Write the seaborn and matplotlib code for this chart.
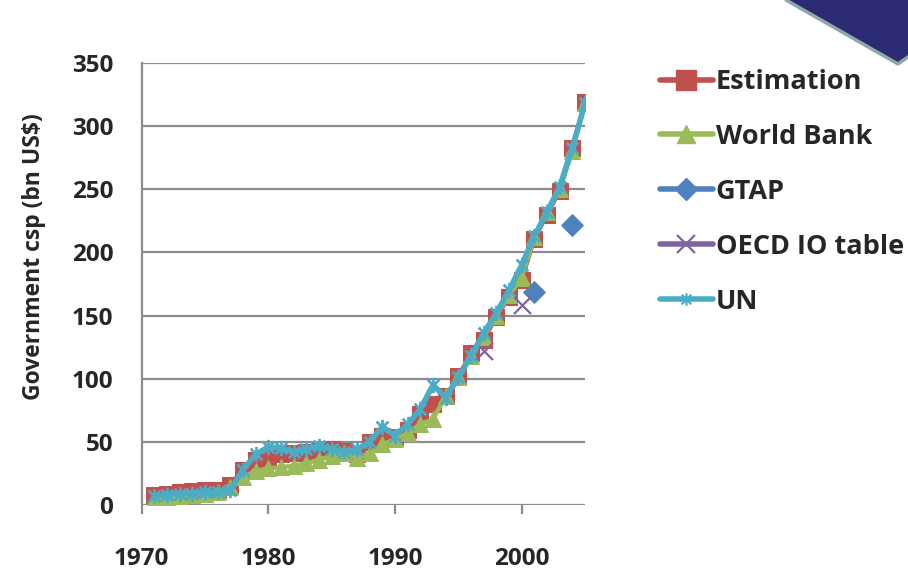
import numpy as np
import pandas as pd
import matplotlib.pyplot as plt
import seaborn as sns
from matplotlib.lines import Line2D
from matplotlib.path import Path
from matplotlib.patches import Polygon

# Data (bn US$)
years = list(range(1971, 2006))
estimation = [8, 9, 10, 11, 12, 12, 16, 28, 36, 38, 40, 41, 42, 43, 44, 43, 40, 50, 55, 54,
              59, 72, 80, 86, 102, 120, 131, 149, 165, 178, 211, 230, 249, 283, 319]
world_bank = [5, 6, 7, 8, 9, 10, 14, 22, 27, 29, 30, 31, 33, 36, 39, 41, 37, 41, 48, 52,
              57, 64, 68, 86, 101, 118, 133, 150, 166, 180, 212, 232, 250, 280, 318]
un = [7, 8, 9, 9, 10, 10, 12, 28, 40, 46, 45, 42, 44, 47, 44, 42, 44, 50, 62, 55,
      64, 76, 95, 85, 101, 118, 136, 152, 170, 190, 213, 232, 252, 283, 318]
gtap_years = [2001, 2004]
gtap = [169, 222]
oecd_years = [1997, 2000]
oecd = [122, 158]

labels = ["Estimation", "World Bank", "GTAP", "OECD IO table", "UN"]
colors = ["#C0504D", "#9BBB59", "#4F81BD", "#8064A2", "#4BACC6"]

df = pd.DataFrame({"Year": years, "Estimation": estimation,
                   "World Bank": world_bank, "UN": un})

# Excel-style asterisk marker: an X plus a vertical bar
asterisk = Path([(-1, -1), (1, 1), (-1, 1), (1, -1), (0, -1.3), (0, 1.3)],
                [Path.MOVETO, Path.LINETO, Path.MOVETO, Path.LINETO, Path.MOVETO, Path.LINETO])

sns.set_style("white")
plt.rcParams["font.family"] = ["Open Sans", "DejaVu Sans"]
plt.rcParams["font.weight"] = "bold"

fig = plt.figure(figsize=(9.08, 5.71), dpi=100)
ax = fig.add_axes([141.7 / 908, 1 - 505 / 571, (585 - 141.7) / 908, (505 - 63) / 571])

sns.lineplot(data=df, x="Year", y="Estimation", ax=ax, color=colors[0], lw=3.2,
             marker="s", ms=11, mec=colors[0], errorbar=None, zorder=3)
sns.lineplot(data=df, x="Year", y="World Bank", ax=ax, color=colors[1], lw=3.2,
             marker="^", ms=11, mec=colors[1], errorbar=None, zorder=4)
sns.scatterplot(x=gtap_years, y=gtap, ax=ax, color=colors[2], marker="D", s=120,
                edgecolor=colors[2], zorder=5)
sns.scatterplot(x=oecd_years, y=oecd, ax=ax, color=colors[3], marker="x", s=150,
                linewidth=1.6, zorder=5)
sns.lineplot(data=df, x="Year", y="UN", ax=ax, color=colors[4], lw=4,
             marker=asterisk, ms=11, mew=2, mec=colors[4], mfc="none",
             errorbar=None, zorder=6)

ax.set_xlim(1970, 2005)
ax.set_ylim(0, 350)
ax.set_xticks([1970, 1980, 1990, 2000])
ax.set_yticks(range(0, 351, 50))
ax.grid(axis="y", color="#8C8C8C", lw=1.6)
ax.set_axisbelow(True)
for s in ["top", "right", "bottom"]:
    ax.spines[s].set_visible(False)
ax.spines["left"].set_color("#8C8C8C")
ax.spines["left"].set_linewidth(1.6)
ax.tick_params(axis="y", direction="out", length=6.5, width=1.6, color="#8C8C8C",
               labelsize=17.5, pad=14)
ax.tick_params(axis="x", direction="out", length=6.5, width=1.6, color="#8C8C8C",
               labelsize=17.5, pad=24, bottom=True)
for t in ax.get_xticklabels() + ax.get_yticklabels():
    t.set_fontweight("bold")
ax.set_xlabel("")
ax.set_ylabel("Government csp (bn US$)", fontsize=16.5, fontweight="bold")
ax.yaxis.set_label_coords(-0.215, 0.561)

handles = [
    Line2D([], [], color=colors[0], lw=4, marker="s", ms=14, mec=colors[0], solid_capstyle="round"),
    Line2D([], [], color=colors[1], lw=4, marker="^", ms=13, mec=colors[1], solid_capstyle="round"),
    Line2D([], [], color=colors[2], lw=4, marker="D", ms=11, mec=colors[2], solid_capstyle="round"),
    Line2D([], [], color=colors[3], lw=4, marker="x", ms=13, mew=1.6, solid_capstyle="round"),
    Line2D([], [], color=colors[4], lw=4, marker=asterisk, ms=9, mew=1.6, mfc="none",
           solid_capstyle="round"),
]
leg = fig.legend(handles, labels, loc="upper left", bbox_to_anchor=(660 / 908, 1 - 69 / 571),
                 frameon=False, prop={"weight": "bold", "size": 19.5}, handlelength=1.95,
                 handletextpad=0.1, labelspacing=1.07, borderpad=0, borderaxespad=0)

# slide decoration in the top-right corner
corner = Polygon([(786 / 908, 1), (898 / 908, 1 - 64 / 571), (1, 1 - 57 / 571), (1, 1)],
                 closed=True, transform=fig.transFigure, facecolor="#2B2A72", lw=0)
fig.patches.append(corner)
fig.lines.append(Line2D([786 / 908, 898 / 908, 1], [1, 1 - 64 / 571, 1 - 57 / 571],
                        transform=fig.transFigure, color="#8FA9AB", lw=2.5))

fig.savefig("out.png", dpi=100)
